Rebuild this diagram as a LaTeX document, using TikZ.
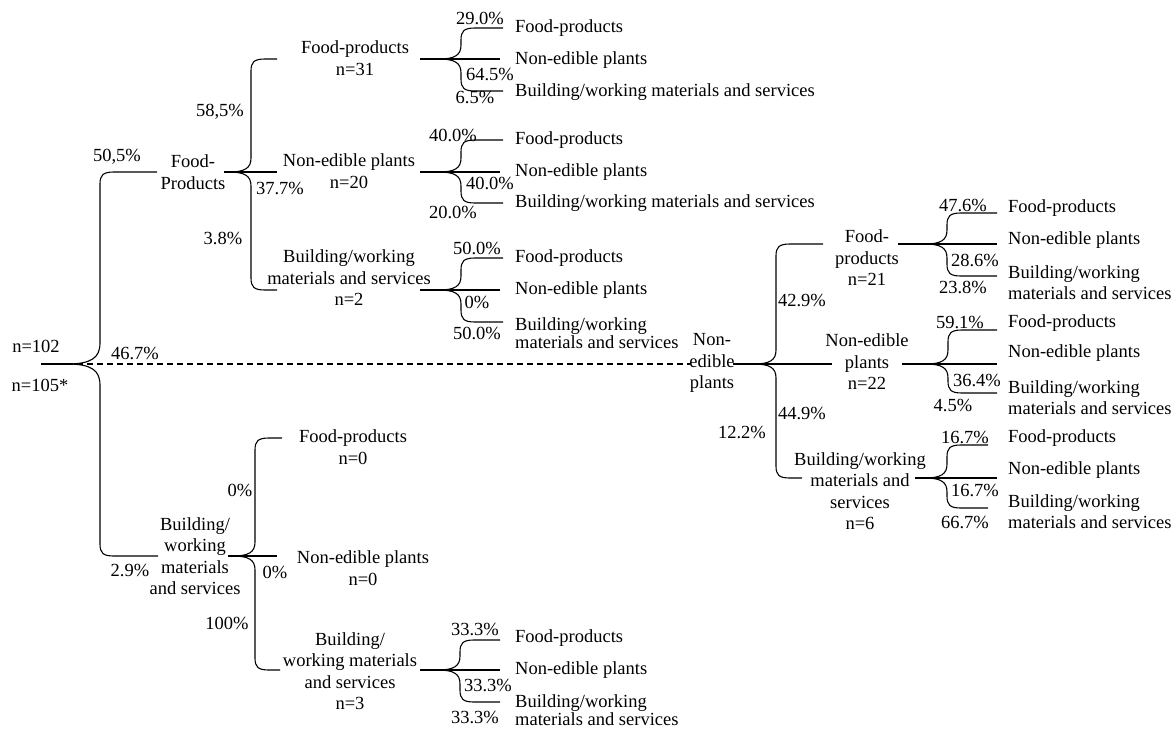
\documentclass[tikz,border=0pt]{standalone}
\usepackage{fontspec}
\setmainfont{Liberation Serif}
\usetikzlibrary{calc}
% #2 parent point, #3 vertical-x coordinate, #4 child point, #5 sign (+1 child below, -1 above)
\newcommand\brc[5][1]{%
 \draw[conn] ($(#3|-#2)+({-22*#1},0)$) .. controls ($(#3|-#2)+({-6*#1},0)$) and ($(#3|-#2)+(0,{#5*4*#1})$) .. ($(#3|-#2)+(0,{#5*14*#1})$)
  -- ($(#3|-#4)+(0,{(-1)*(#5)*12})$) .. controls ($(#3|-#4)+(0,{(-1)*(#5)*3})$) and ($(#3|-#4)+(3,0)$) .. ($(#3|-#4)+(14,0)$) -- (#4);}
\begin{document}
\begin{tikzpicture}[x=1pt,y=-1pt,
  conn/.style={line width=1.1pt},
  t/.style={inner sep=0pt, font=\fontsize{18.5}{21.5}\selectfont, align=center},
  lf/.style={t, anchor=west, align=left},
  tight/.style={font=\fontsize{18.5}{16.5}\selectfont},
  wide/.style={font=\fontsize{18.5}{21}\selectfont}]
\useasboundingbox (0,0) rectangle (1176,729);

% ---------- root ----------
\node[t] (n102) at (36,346) {n=102};
\node[t] (n105) at (40,385) {n=105*};
\coordinate (root) at (41,364);
\coordinate (rootj) at (67,364);
\coordinate (v0) at (100,0);

\node[t] (FP) at (193,172) {Food-\\Products};
\coordinate (FPin) at (157,172); \coordinate (FPout) at (224,172);
\node[t] (NE) at (712,363) {Non-\\edible\\plants};
\coordinate (NEin) at (690,364); \coordinate (NEout) at (733,364);
\node[t] (BW) at (195,556) {Building/\\working\\materials\\and services};
\coordinate (BWin) at (158,556); \coordinate (BWout) at (228,556);

\draw[conn] (root) -- (rootj);
\draw[conn, dash pattern=on 6pt off 4pt] (rootj) -- (NEin);
\brc[1.5]{root}{v0}{FPin}{-1}
\brc[1.5]{root}{v0}{BWin}{1}
\node[t] (p505) at (117,157) {50,5\%};
\node[t] (p467) at (135,353) {46.7\%};
\node[t] (p29) at (130,570) {2.9\%};

% ---------- Food-Products branch ----------
\coordinate (v1) at (251,0);
\node[t] (FP1) at (355,58) {Food-products\\n=31};
\node[t] (FP2) at (349,171) {Non-edible plants\\n=20};
\node[t] (FP3) at (349,278) {Building/working\\materials and services\\n=2};
\coordinate (FP1in) at (277,59); \coordinate (FP2in) at (277,172); \coordinate (FP3in) at (277,290);
\coordinate (FP1out) at (420,59); \coordinate (FP2out) at (420,172); \coordinate (FP3out) at (420,290);
\brc{FPout}{v1}{FP1in}{-1}
\draw[conn] (FPout) -- (FP2in);
\brc{FPout}{v1}{FP3in}{1}
\node[t] (p585) at (220,112) {58,5\%};
\node[t] (p377) at (280,188) {37.7\%};
\node[t] (p38) at (223,238) {3.8\%};

% FP1 leaves
\coordinate (v11) at (461,0);
\coordinate (FP1a) at (503,28); \coordinate (FP1b) at (500,59); \coordinate (FP1c) at (503,91);
\brc{FP1out}{v11}{FP1a}{-1}
\draw[conn] (FP1out) -- (FP1b);
\brc{FP1out}{v11}{FP1c}{1}
\node[lf] (FP1aT) at (515,28) {Food-products};
\node[lf] (FP1bT) at (515,60) {Non-edible plants};
\node[lf] (FP1cT) at (515,92) {Building/working materials and services};
\node[t] (q290) at (480,18) {29.0\%};
\node[t] (q645) at (490,74) {64.5\%};
\node[t] (q65) at (475,97) {6.5\%};

% FP2 leaves
\coordinate (v12) at (461,0);
\coordinate (FP2a) at (503,140); \coordinate (FP2b) at (500,172); \coordinate (FP2c) at (503,203);
\brc{FP2out}{v12}{FP2a}{-1}
\draw[conn] (FP2out) -- (FP2b);
\brc{FP2out}{v12}{FP2c}{1}
\node[lf] (FP2aT) at (515,140) {Food-products};
\node[lf] (FP2bT) at (515,172) {Non-edible plants};
\node[lf] (FP2cT) at (515,203) {Building/working materials and services};
\node[t] (q400a) at (453,135) {40.0\%};
\node[t] (q400b) at (490,183) {40.0\%};
\node[t] (q200) at (453,212) {20.0\%};

% FP3 leaves
\coordinate (v13) at (461,0);
\coordinate (FP3a) at (503,258); \coordinate (FP3b) at (500,290); \coordinate (FP3c) at (503,322);
\brc{FP3out}{v13}{FP3a}{-1}
\draw[conn] (FP3out) -- (FP3b);
\brc{FP3out}{v13}{FP3c}{1}
\node[lf] (FP3aT) at (515,258) {Food-products};
\node[lf] (FP3bT) at (515,290) {Non-edible plants};
\node[lf,tight] (FP3cT) at (515,333) {Building/working\\materials and services};
\node[t] (q500a) at (477,248) {50.0\%};
\node[t] (q0a) at (477,302) {0\%};
\node[t] (q500b) at (477,333) {50.0\%};

% ---------- Non-edible plants branch ----------
\coordinate (v2) at (776,0);
\node[t] (NE1) at (867,258) {Food-\\products\\n=21};
\node[t] (NE2) at (867,362) {Non-edible\\plants\\n=22};
\node[t] (NE3) at (860,491) {Building/working\\materials and\\services\\n=6};
\coordinate (NE1in) at (823,244); \coordinate (NE2in) at (832,364); \coordinate (NE3in) at (802,478);
\coordinate (NE1out) at (898,244); \coordinate (NE2out) at (902,364); \coordinate (NE3out) at (915,478);
\brc{NEout}{v2}{NE1in}{-1}
\draw[conn] (NEout) -- (NE2in);
\brc{NEout}{v2}{NE3in}{1}
\node[t] (p429) at (802,300) {42.9\%};
\node[t] (p449) at (802,413) {44.9\%};
\node[t] (p122) at (742,432) {12.2\%};

% NE1 leaves
\coordinate (v21) at (947,0);
\coordinate (NE1a) at (997,213); \coordinate (NE1b) at (997,244); \coordinate (NE1c) at (997,276);
\brc{NE1out}{v21}{NE1a}{-1}
\draw[conn] (NE1out) -- (NE1b);
\brc{NE1out}{v21}{NE1c}{1}
\node[lf] (NE1aT) at (1008,208) {Food-products};
\node[lf] (NE1bT) at (1008,240) {Non-edible plants};
\node[lf,wide] (NE1cT) at (1008,283) {Building/working\\materials and services};
\node[t] (r476) at (963,205) {47.6\%};
\node[t] (r286) at (975,260) {28.6\%};
\node[t] (r238) at (963,287) {23.8\%};

% NE2 leaves
\coordinate (v22) at (948,0);
\coordinate (NE2a) at (997,330); \coordinate (NE2b) at (997,364); \coordinate (NE2c) at (997,393);
\brc{NE2out}{v22}{NE2a}{-1}
\draw[conn] (NE2out) -- (NE2b);
\brc{NE2out}{v22}{NE2c}{1}
\node[lf] (NE2aT) at (1008,323) {Food-products};
\node[lf] (NE2bT) at (1008,353) {Non-edible plants};
\node[lf,wide] (NE2cT) at (1008,398) {Building/working\\materials and services};
\node[t] (r591) at (960,322) {59.1\%};
\node[t] (r364) at (977,380) {36.4\%};
\node[t] (r45) at (953,405) {4.5\%};

% NE3 leaves
\coordinate (v23) at (947,0);
\coordinate (NE3a) at (988,445); \coordinate (NE3b) at (997,478); \coordinate (NE3c) at (988,508);
\brc{NE3out}{v23}{NE3a}{-1}
\draw[conn] (NE3out) -- (NE3b);
\brc{NE3out}{v23}{NE3c}{1}
\node[lf] (NE3aT) at (1008,438) {Food-products};
\node[lf] (NE3bT) at (1008,470) {Non-edible plants};
\node[lf,wide] (NE3cT) at (1008,512) {Building/working\\materials and services};
\node[t] (r167a) at (965,437) {16.7\%};
\node[t] (r167b) at (975,490) {16.7\%};
\node[t] (r667) at (965,522) {66.7\%};

% ---------- Building branch ----------
\coordinate (v3) at (255,0);
\node[t] (BW1) at (353,447) {Food-products\\n=0};
\node[t] (BW2) at (363,568) {Non-edible plants\\n=0};
\node[t] (BW3) at (350,671) {Building/\\working materials\\and services\\n=3};
\coordinate (BW1in) at (282,438); \coordinate (BW2in) at (277,556); \coordinate (BW3in) at (280,670);
\coordinate (BW3out) at (420,670);
\brc{BWout}{v3}{BW1in}{-1}
\draw[conn] (BWout) -- (BW2in);
\brc{BWout}{v3}{BW3in}{1}
\node[t] (p0a) at (240,490) {0\%};
\node[t] (p0b) at (275,572) {0\%};
\node[t] (p100) at (227,623) {100\%};

% BW3 leaves
\coordinate (v31) at (460,0);
\coordinate (BW3a) at (500,640); \coordinate (BW3b) at (500,670); \coordinate (BW3c) at (500,702);
\brc{BW3out}{v31}{BW3a}{-1}
\draw[conn] (BW3out) -- (BW3b);
\brc{BW3out}{v31}{BW3c}{1}
\node[lf] (BW3aT) at (515,638) {Food-products};
\node[lf] (BW3bT) at (515,670) {Non-edible plants};
\node[lf,tight] (BW3cT) at (515,710) {Building/working\\materials and services};
\node[t] (s333a) at (475,629) {33.3\%};
\node[t] (s333b) at (488,685) {33.3\%};
\node[t] (s333c) at (475,717) {33.3\%};
\end{tikzpicture}
\end{document}
